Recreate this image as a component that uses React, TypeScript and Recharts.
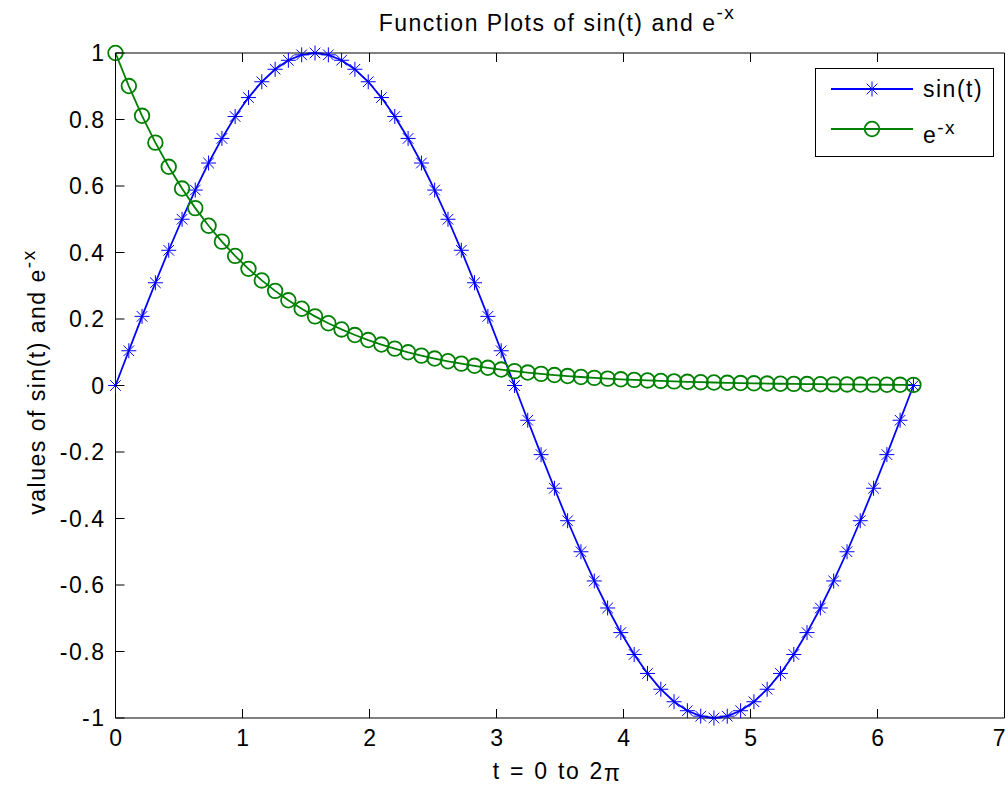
import React from 'react';
import { LineChart, Line, XAxis, YAxis, Legend } from 'recharts';

const tValues = [
  0, 0.105, 0.209, 0.314, 0.419, 0.524, 0.628, 0.733, 0.838, 0.942,
  1.047, 1.152, 1.257, 1.361, 1.466, 1.571, 1.676, 1.78, 1.885, 1.99,
  2.094, 2.199, 2.304, 2.409, 2.513, 2.618, 2.723, 2.827, 2.932, 3.037,
  3.142, 3.246, 3.351, 3.456, 3.56, 3.665, 3.77, 3.875, 3.979, 4.084,
  4.189, 4.294, 4.398, 4.503, 4.608, 4.712, 4.817, 4.922, 5.027, 5.131,
  5.236, 5.341, 5.445, 5.55, 5.655, 5.76, 5.864, 5.969, 6.074, 6.178,
  6.283,
];

const sinValues = [
  0, 0.1045, 0.2079, 0.309, 0.4067, 0.5, 0.5878, 0.6691, 0.7431, 0.809,
  0.866, 0.9135, 0.9511, 0.9781, 0.9945, 1, 0.9945, 0.9781, 0.9511, 0.9135,
  0.866, 0.809, 0.7431, 0.6691, 0.5878, 0.5, 0.4067, 0.309, 0.2079, 0.1045,
  0, -0.1045, -0.2079, -0.309, -0.4067, -0.5, -0.5878, -0.6691, -0.7431, -0.809,
  -0.866, -0.9135, -0.9511, -0.9781, -0.9945, -1, -0.9945, -0.9781, -0.9511, -0.9135,
  -0.866, -0.809, -0.7431, -0.6691, -0.5878, -0.5, -0.4067, -0.309, -0.2079, -0.1045,
  0,
];

const expValues = [
  1, 0.9006, 0.8111, 0.7304, 0.6578, 0.5924, 0.5335, 0.4805, 0.4327, 0.3897,
  0.3509, 0.316, 0.2846, 0.2563, 0.2308, 0.2079, 0.1872, 0.1686, 0.1518, 0.1367,
  0.1231, 0.1109, 0.0999, 0.0899, 0.081, 0.0729, 0.0657, 0.0592, 0.0533, 0.048,
  0.0432, 0.0389, 0.035, 0.0315, 0.0284, 0.0256, 0.023, 0.0207, 0.0187, 0.0168,
  0.0152, 0.0137, 0.0123, 0.0111, 0.01, 0.009, 0.0081, 0.0073, 0.0066, 0.0059,
  0.0053, 0.0048, 0.0043, 0.0039, 0.0035, 0.0032, 0.0028, 0.0026, 0.0023, 0.0021,
  0.0019,
];

const xTicks = [0, 1, 2, 3, 4, 5, 6, 7];
const yTicks = [-1, -0.8, -0.6, -0.4, -0.2, 0, 0.2, 0.4, 0.6, 0.8, 1];

const titleText = 'Function Plots of sin(t) and e';
const supText = '-x';
const xLabelText = 't = 0 to 2';
const piText = 'π';
const yLabelText = 'values of sin(t) and e';
const seriesNames = ['sin(t)', 'e'];

const data = tValues.map((t, i) => ({ t, sin: sinValues[i], exp: expValues[i] }));

const FONT = '"Liberation Sans", Arial, Helvetica, sans-serif';
const FS = 23;
const SUP = 19;
const LS = 1.5;
const TICK = 9;
const BLUE = '#0000ff';
const GREEN = '#008000';

const txt = { fontFamily: FONT, fontSize: FS, fill: '#000', letterSpacing: LS } as const;

function Asterisk({ cx, cy }: { cx: number; cy: number }) {
  const s = 7.5;
  const d = 5.3;
  return (
    <g stroke={BLUE} strokeWidth={1} fill="none">
      <line x1={cx - s} y1={cy} x2={cx + s} y2={cy} />
      <line x1={cx} y1={cy - s} x2={cx} y2={cy + s} />
      <line x1={cx - d} y1={cy - d} x2={cx + d} y2={cy + d} />
      <line x1={cx - d} y1={cy + d} x2={cx + d} y2={cy - d} />
    </g>
  );
}

function Ring({ cx, cy }: { cx: number; cy: number }) {
  return <circle cx={cx} cy={cy} r={7.3} fill="none" stroke={GREEN} strokeWidth={1.8} />;
}

const BottomTick = (p: any) => (
  <g>
    <line x1={p.x} y1={p.y} x2={p.x} y2={p.y - TICK} stroke="#000" strokeWidth={1} />
    <text x={Math.min(p.x + 1, 1000)} y={p.y + 28} textAnchor="middle" {...txt}>
      {String(p.payload.value)}
    </text>
  </g>
);

const TopTick = (p: any) => (
  <line x1={p.x} y1={p.y} x2={p.x} y2={p.y + TICK} stroke="#000" strokeWidth={1} />
);

const LeftTick = (p: any) => (
  <g>
    <line x1={p.x} y1={p.y} x2={p.x + TICK} y2={p.y} stroke="#000" strokeWidth={1} />
    <text x={p.x - 10} y={p.y + 8} textAnchor="end" {...txt}>
      {String(p.payload.value)}
    </text>
  </g>
);

const RightTick = (p: any) => (
  <line x1={p.x} y1={p.y} x2={p.x - TICK} y2={p.y} stroke="#000" strokeWidth={1} />
);

const XLabel = () => (
  <g>
    <text x={557} y={31} textAnchor="middle" {...txt}>
      {titleText}
      <tspan dy={-12} fontSize={SUP}>{supText}</tspan>
    </text>
    <text x={557} y={779} textAnchor="middle" {...txt} wordSpacing={1.5}>
      {xLabelText}
      <tspan dy={2}>{piText}</tspan>
    </text>
  </g>
);

const YLabel = () => (
  <text transform="translate(45, 382) rotate(-90)" textAnchor="middle" {...txt}>
    {yLabelText}
    <tspan dy={-10} fontSize={SUP}>{supText}</tspan>
  </text>
);

const LegendBox = () => (
  <svg width={179} height={89} style={{ display: 'block', overflow: 'visible' }}>
    <rect x={0.5} y={0.5} width={178} height={88} fill="#fff" stroke="#000" strokeWidth={1} />
    <line x1={16} y1={21} x2={98} y2={21} stroke={BLUE} strokeWidth={2} />
    <Asterisk cx={57} cy={21} />
    <text x={108} y={29} {...txt}>{seriesNames[0]}</text>
    <line x1={16} y1={61} x2={98} y2={61} stroke={GREEN} strokeWidth={2} />
    <Ring cx={57} cy={61} />
    <text x={108} y={75} {...txt}>
      {seriesNames[1]}
      <tspan dy={-9} fontSize={SUP}>{supText}</tspan>
    </text>
  </svg>
);

export default function App() {
  return (
    <div style={{ position: 'absolute', left: 0, top: 0, width: 1008, height: 786, background: '#fff' }}>
      <LineChart
        width={1008}
        height={786}
        data={data}
        margin={{ top: 52, right: 2.5, bottom: 38, left: 55.5 }}
      >
        <XAxis
          dataKey="t"
          type="number"
          domain={[0, 7]}
          ticks={xTicks}
          interval={0}
          height={30}
          tickSize={0}
          tickMargin={0}
          tickLine={false}
          axisLine={{ stroke: '#000', strokeWidth: 1 }}
          tick={BottomTick}
          label={XLabel}
        />
        <XAxis
          xAxisId="top"
          orientation="top"
          dataKey="t"
          type="number"
          domain={[0, 7]}
          ticks={xTicks}
          interval={0}
          height={1}
          tickSize={0}
          tickMargin={0}
          tickLine={false}
          axisLine={{ stroke: '#000', strokeWidth: 1 }}
          tick={TopTick}
        />
        <YAxis
          type="number"
          domain={[-1, 1]}
          ticks={yTicks}
          interval={0}
          width={60}
          tickSize={0}
          tickMargin={0}
          tickLine={false}
          axisLine={{ stroke: '#000', strokeWidth: 1 }}
          tick={LeftTick}
          label={YLabel}
        />
        <YAxis
          yAxisId="right"
          orientation="right"
          type="number"
          domain={[-1, 1]}
          ticks={yTicks}
          interval={0}
          width={1}
          tickSize={0}
          tickMargin={0}
          tickLine={false}
          axisLine={{ stroke: '#000', strokeWidth: 1 }}
          tick={RightTick}
        />
        <Line
          dataKey="sin"
          type="linear"
          stroke={BLUE}
          strokeWidth={1.8}
          isAnimationActive={false}
          activeDot={false}
          dot={(p: any) => <Asterisk key={`s-${p.index}`} cx={p.cx} cy={p.cy} />}
        />
        <Line
          dataKey="exp"
          type="linear"
          stroke={GREEN}
          strokeWidth={1.8}
          isAnimationActive={false}
          activeDot={false}
          dot={(p: any) => <Ring key={`e-${p.index}`} cx={p.cx} cy={p.cy} />}
        />
        <Legend
          layout="horizontal"
          verticalAlign="middle"
          align="center"
          wrapperStyle={{ left: 815, top: 68, width: 179, height: 89 }}
          content={LegendBox}
        />
      </LineChart>
    </div>
  );
}
